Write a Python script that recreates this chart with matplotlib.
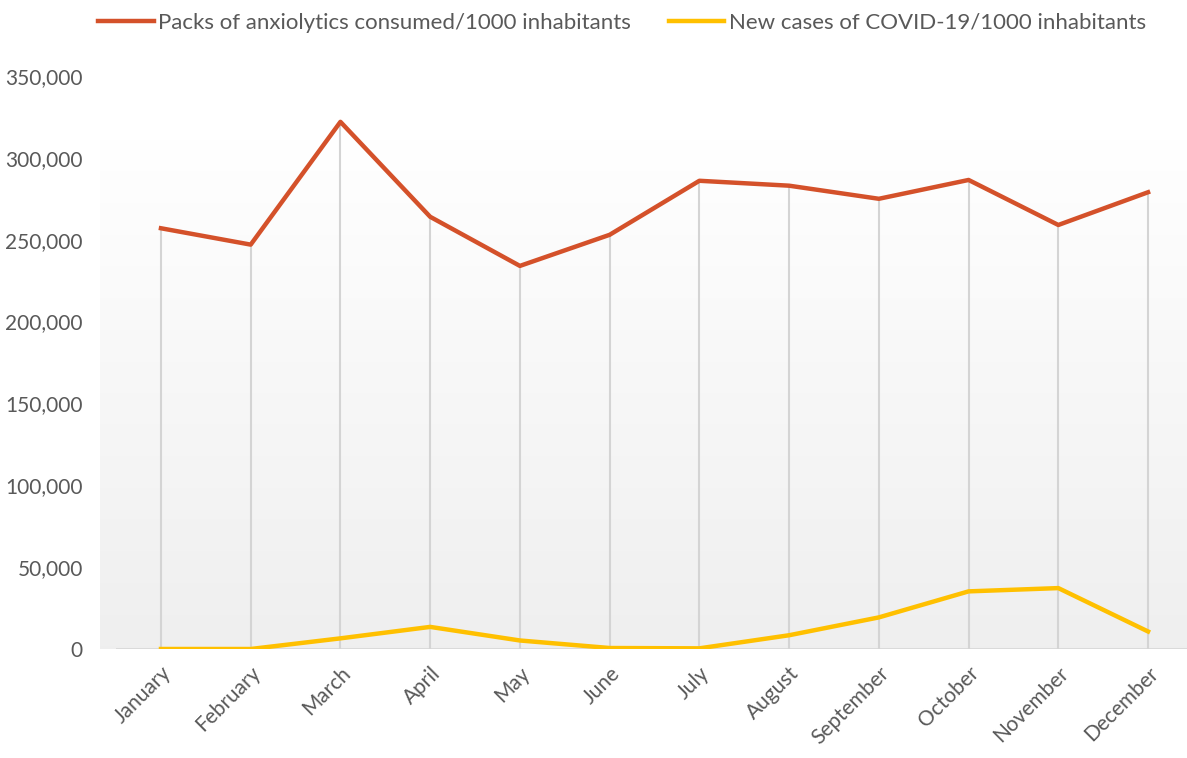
import matplotlib.pyplot as plt
import numpy as np

months = ["January", "February", "March", "April", "May", "June",
          "July", "August", "September", "October", "November", "December"]
anxiolytics = [257000, 247000, 322000, 264000, 234000, 253000,
               286000, 283000, 275000, 286500, 259000, 279000]
covid = [0, 0, 6500, 13500, 5200, 600, 400, 8400, 19300, 35200, 37200, 10700]
yticks = [0, 50000, 100000, 150000, 200000, 250000, 300000, 350000]

plt.rcParams['font.family'] = ['Lato', 'DejaVu Sans']

fig = plt.figure(figsize=(11.87, 7.58), dpi=100)
ax = fig.add_axes([116.1 / 1187, 1 - 649 / 758, 1 - 116.1 / 1187, (649 - 76) / 758])

x = np.arange(len(months))

# gradient background, white at top to light gray at the base
top = np.array([1.0, 1.0, 1.0])
bot = np.array([0.937, 0.937, 0.937])
cols = np.zeros((256, 1, 3))
for i in range(256):
    cols[i, 0] = top + (bot - top) * (i / 255)
ax.imshow(cols, extent=[-0.015, 1.0, 0, 311 / 350], transform=ax.transAxes,
          aspect='auto', zorder=0, clip_on=False)

ax.vlines(x, 0, anxiolytics, color='#d4d4d4', lw=1.5, zorder=1)
ax.axhline(0, color='#d4d4d4', lw=1.8, zorder=1)

l1, = ax.plot(x, anxiolytics, color='#D4512A', lw=3.2, zorder=3,
              label='Packs of anxiolytics consumed/1000 inhabitants')
l2, = ax.plot(x, covid, color='#FFC000', lw=3.2, zorder=3,
              label='New cases of COVID-19/1000 inhabitants')

ax.set_xlim(-0.5, 11.434)
ax.set_ylim(0, 350000)
ax.set_yticks(yticks)
ax.set_yticklabels([f"{v:,}" for v in yticks])
ax.set_xticks(x)
ax.set_xticklabels(months, rotation=45, ha='right', rotation_mode='anchor')
ax.tick_params(axis='both', length=0, labelsize=15, colors='#595959')
ax.tick_params(axis='y', pad=24)
ax.tick_params(axis='x', pad=10)
for s in ax.spines.values():
    s.set_visible(False)
ax.set_facecolor('none')

fig.legend(handles=[l1, l2], loc='center', bbox_to_anchor=(0.524, 0.97), ncol=2,
           frameon=False, fontsize=16, handlelength=2.5, handletextpad=0.2,
           columnspacing=1.7, labelcolor='#595959')

fig.savefig('out.png', dpi=100)
